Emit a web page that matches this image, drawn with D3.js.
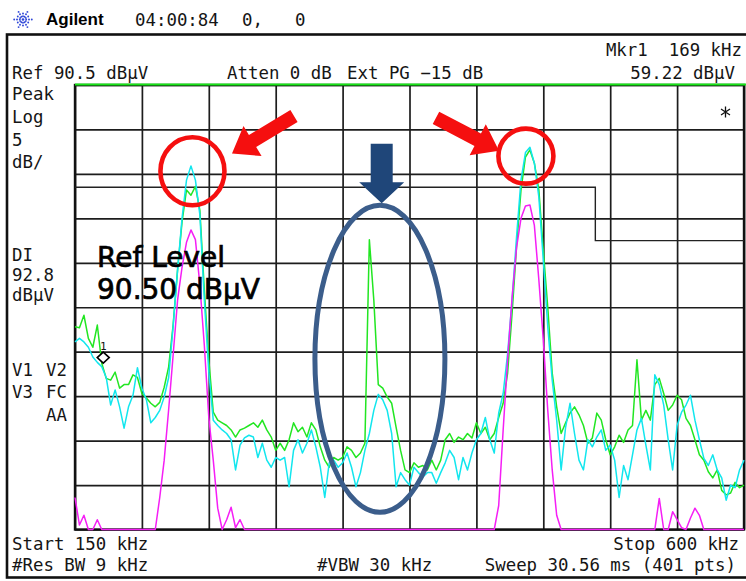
<!DOCTYPE html>
<html>
<head>
<meta charset="utf-8">
<script src="https://cdn.jsdelivr.net/npm/d3@7"></script>
<style>
  body { margin: 0; background: #fff; }
  svg { display: block; }
  text { font-family: "DejaVu Sans Mono", monospace; font-size: 17.4px; fill: #151515; white-space: pre; }
</style>
</head>
<body>
<div id="chart"></div>
<script>
// sweep settings (kHz / dBuV), traces every 3 kHz
var startFreq = 150, stopFreq = 600, stepFreq = 3;
var refLevel = 90.5, dbPerDiv = 5, divisions = 10;

var freqTicks = [150, 195, 240, 285, 330, 375, 420, 465, 510, 555, 600];
var levelTicks = [90.5, 85.5, 80.5, 75.5, 70.5, 65.5, 60.5, 55.5, 50.5, 45.5, 40.5];

// trace 1 (green, max hold)
var traceGreen = [
  63.3, 63.2, 64.6, 62.0, 61.0, 63.5, 59.2, 57.5, 57.3, 58.2,
  56.4, 56.8, 56.8, 57.9, 57.6, 55.8, 55.3, 54.7, 54.3, 54.8,
  56.5, 58.8, 63.5, 69.7, 75.1, 78.7, 78.1, 79.1, 76.4, 67.4,
  59.6, 53.7, 52.8, 52.5, 52.2, 51.7, 50.9, 51.7, 51.9, 52.2,
  52.5, 52.0, 52.8, 51.7, 50.9, 49.4, 50.2, 49.4, 50.6, 52.5,
  51.5, 52.0, 50.9, 52.5, 51.7, 49.8, 48.3, 47.5, 48.6, 48.3,
  48.6, 49.8, 49.4, 48.6, 49.1, 50.2, 73.1, 66.3, 56.8, 56.4,
  55.4, 54.7, 52.0, 49.4, 47.2, 46.9, 48.0, 47.5, 47.7, 47.2,
  48.3, 47.2, 48.3, 50.6, 51.3, 50.3, 50.9, 50.6, 51.3, 50.8,
  52.5, 51.3, 52.0, 50.6, 51.3, 53.1, 54.7, 58.1, 64.8, 72.3,
  78.7, 82.4, 83.2, 81.7, 78.7, 71.9, 65.5, 58.1, 54.3, 51.3,
  52.5, 53.6, 54.3, 53.4, 52.2, 50.2, 50.8, 53.6, 52.8, 50.6,
  48.9, 49.8, 51.1, 50.3, 51.7, 52.2, 59.6, 52.8, 53.9, 52.8,
  56.8, 57.5, 55.8, 53.9, 54.5, 55.6, 55.1, 53.0, 52.2, 50.6,
  48.9, 48.3, 47.0, 46.3, 47.2, 44.9, 44.4, 44.6, 45.8, 45.2, 45.5
];

// trace 2 (cyan, clear write)
var traceCyan = [
  61.6, 62.0, 61.6, 61.0, 59.9, 59.3, 58.8, 57.6, 54.5, 56.2,
  54.3, 51.9, 54.3, 55.6, 58.7, 56.4, 55.1, 52.5, 53.1, 53.9,
  55.4, 57.6, 63.3, 69.7, 75.5, 79.8, 81.4, 79.8, 75.9, 66.3,
  58.2, 52.8, 52.2, 51.7, 51.3, 50.6, 47.2, 50.0, 50.8, 51.1,
  50.9, 48.6, 50.2, 48.3, 47.5, 48.6, 48.3, 48.6, 45.3, 49.4,
  50.6, 49.1, 50.2, 51.7, 49.8, 47.5, 44.1, 48.0, 48.3, 47.5,
  48.0, 49.1, 47.5, 45.3, 46.9, 49.4, 51.3, 53.9, 55.7, 55.1,
  53.9, 51.3, 45.3, 46.9, 46.1, 45.5, 47.5, 46.9, 46.4, 46.9,
  46.9, 45.7, 46.9, 48.0, 49.4, 48.6, 46.1, 48.6, 47.2, 49.1,
  50.6, 51.3, 53.1, 50.6, 49.1, 53.6, 55.8, 60.3, 66.3, 73.4,
  79.8, 82.9, 83.5, 81.7, 77.9, 70.8, 63.3, 57.3, 52.8, 47.2,
  52.0, 54.7, 51.3, 48.3, 47.2, 50.6, 49.8, 50.9, 51.7, 49.4,
  50.0, 48.3, 44.1, 47.7, 46.1, 48.9, 51.7, 53.0, 50.0, 47.2,
  57.9, 56.8, 54.5, 50.6, 47.2, 52.2, 53.7, 54.5, 55.6, 52.8,
  50.6, 48.5, 47.7, 48.9, 47.2, 46.3, 43.8, 45.5, 45.2, 47.2, 48.3
];

// trace 3 (magenta, average)
var traceMagenta = [
  44.1, 41.0, 42.1, 40, 40, 41.6, 40, 40, 40, 40,
  40, 40, 40, 40, 40, 40, 40, 40, 40, 44.1,
  48.3, 54.0, 60.1, 66.3, 70.0, 72.8, 74.2, 73.1, 68.0, 61.2,
  53.1, 48.3, 42.9, 40, 41.6, 43.0, 40.7, 41.6, 40, 40,
  40, 40, 40, 40, 40, 40, 40, 40, 40, 40,
  40, 40, 40, 40, 40, 40, 40, 40, 40, 40,
  40, 40, 40, 40, 40, 40, 40, 40, 40, 40,
  40, 40, 40, 40, 40, 40, 40, 40, 40, 40,
  40, 40, 40, 40, 40, 40, 40, 40, 40, 40,
  40, 40, 40, 40, 40, 43.2, 51.7, 59.6, 66.6, 72.2,
  75.5, 76.9, 77.0, 74.7, 68.6, 61.8, 53.9, 47.2, 42.1, 40,
  40, 40, 40, 40, 40, 40, 40, 40, 40, 40,
  40, 40, 40, 40, 40, 40, 40, 40, 40, 40,
  40, 44.0, 40, 40, 42.5, 41.6, 40.7, 40, 41.8, 42.9,
  42.1, 40, 40, 40, 40, 40, 40, 40, 40, 40, 40
];

// class A QP limit line
var limitFreq = [150, 500, 500, 600];
var limitLevel = [79, 79, 73, 73];

var markerFreq = 169, markerLevel = 59.22;

var freqs = d3.range(startFreq, stopFreq + 0.01, stepFreq);

var width = 746, height = 581;
var plot = {left: 75, right: 744, top: 85, bottom: 529.5};

var x = d3.scaleLinear().domain([startFreq, stopFreq]).range([plot.left, plot.right]);
var y = d3.scaleLinear()
    .domain([refLevel - dbPerDiv * divisions, refLevel])
    .range([plot.bottom, plot.top])
    .clamp(true);

var svg = d3.select("#chart").append("svg")
    .attr("width", width)
    .attr("height", height);

// outer instrument frame
svg.append("rect")
    .attr("x", 7).attr("y", 34.5)
    .attr("width", 760).attr("height", 543)
    .attr("fill", "none").attr("stroke", "#111").attr("stroke-width", 2.6);

// header: logo + title
var logo = svg.append("g").attr("transform", "translate(23,19.5)");
d3.range(12).forEach(function (k) {
  var a = k * Math.PI / 6;
  [3.2, 6, 8.8].forEach(function (r, j) {
    if (j == 2 && k % 2) return;
    logo.append("circle")
        .attr("cx", Math.cos(a) * r).attr("cy", Math.sin(a) * r)
        .attr("r", 0.95).attr("fill", "#2f47d8");
  });
});
logo.append("circle").attr("r", 1.3).attr("fill", "#2f47d8");

svg.append("text").attr("x", 46).attr("y", 25)
    .style("font-family", "'Liberation Sans', Arial, sans-serif")
    .style("font-weight", "bold").style("font-size", "17px").style("fill", "#000")
    .text("Agilent");
svg.append("text").attr("x", 135).attr("y", 25.5).text("04:00:84");
svg.append("text").attr("x", 242).attr("y", 25.5).text("0,");
svg.append("text").attr("x", 295).attr("y", 25.5).text("0");

// status text
function label(tx, ty, s, anchor) {
  svg.append("text").attr("x", tx).attr("y", ty)
      .attr("text-anchor", anchor || "start").text(s);
}
label(12, 78.5, "Ref 90.5 dBµV");
label(227, 78.5, "Atten 0 dB");
label(347, 78.5, "Ext PG −15 dB");
label(742, 56, "Mkr1  169 kHz", "end");
label(735, 78.5, "59.22 dBµV", "end");
label(12, 100, "Peak");
label(12, 122.5, "Log");
label(12, 145.5, "5");
label(12, 167.5, "dB/");
label(12, 261, "DI");
label(12, 281, "92.8");
label(12, 301, "dBµV");
label(12, 376, "V1");
label(46, 376, "V2");
label(12, 398, "V3");
label(46, 398, "FC");
label(46, 420.5, "AA");
label(12, 549.5, "Start 150 kHz");
label(12, 571, "#Res BW 9 kHz");
label(317, 571, "#VBW 30 kHz");
label(739, 549.5, "Stop 600 kHz", "end");
label(736, 571, "Sweep 30.56 ms (401 pts)", "end");

// graticule
var grid = svg.append("g").attr("class", "grid");
grid.append("g")
    .attr("transform", "translate(0," + plot.bottom + ")")
    .call(d3.axisBottom(x).tickValues(freqTicks).tickSize(-(plot.bottom - plot.top)).tickFormat(""));
grid.append("g")
    .attr("transform", "translate(" + plot.left + ",0)")
    .call(d3.axisLeft(y).tickValues(levelTicks).tickSize(-(plot.right - plot.left)).tickFormat(""));
grid.selectAll(".domain").remove();
grid.selectAll(".tick line").attr("stroke", "#1d1d1d").attr("stroke-width", 1.7);

svg.append("rect")
    .attr("x", plot.left).attr("y", plot.top)
    .attr("width", plot.right - plot.left).attr("height", plot.bottom - plot.top)
    .attr("fill", "none").attr("stroke", "#111").attr("stroke-width", 2.4);

svg.append("line")
    .attr("x1", plot.left).attr("x2", width)
    .attr("y1", plot.top - 0.5).attr("y2", plot.top - 0.5)
    .attr("stroke", "#19e619").attr("stroke-width", 1.8);

// limit line
var limitLine = d3.line()
    .x(function (d, i) { return x(limitFreq[i]); })
    .y(function (d) { return y(d); });
svg.append("path")
    .datum(limitLevel)
    .attr("d", limitLine)
    .attr("fill", "none").attr("stroke", "#222").attr("stroke-width", 1.4);

// traces
var line = d3.line()
    .x(function (d, i) { return x(freqs[i]); })
    .y(function (d) { return y(d); });

[[traceGreen, "#22e622"], [traceCyan, "#12e6ee"], [traceMagenta, "#f51ef5"]].forEach(function (t) {
  svg.append("path")
      .datum(t[0])
      .attr("d", line)
      .attr("fill", "none")
      .attr("stroke", t[1])
      .attr("stroke-width", 1.5)
      .attr("stroke-linejoin", "round");
});

// marker 1
var mx = x(markerFreq), my = y(markerLevel);
svg.append("path")
    .attr("d", "M" + mx + "," + (my - 11) + "l6,5.5l-6,5.5l-6,-5.5z")
    .attr("fill", "#fff").attr("stroke", "#000").attr("stroke-width", 1.6);
svg.append("text").attr("x", mx).attr("y", my - 13)
    .attr("text-anchor", "middle").style("font-size", "11px").text("1");

// asterisk
svg.append("path")
    .attr("d", "M725.5,106.5v11M721,109l9,6M730,109l-9,6")
    .attr("stroke", "#111").attr("stroke-width", 1.3);

// ref level note
var note = svg.append("g")
    .style("font-family", "'DejaVu Sans', sans-serif");
note.append("text").attr("x", 97).attr("y", 266.5)
    .style("font-family", "inherit").style("font-size", "28px").style("fill", "#000")
    .style("stroke", "#000").style("stroke-width", 0.7)
    .text("Ref Level");
note.append("text").attr("x", 97).attr("y", 298.5)
    .style("font-family", "inherit").style("font-size", "28px").style("fill", "#000")
    .style("stroke", "#000").style("stroke-width", 0.7)
    .text("90.50 dBµV");

// annotations (anchored in kHz / dBuV)
function arrow(f0, l0, f1, l1, bw, hw, hl, color) {
  var x0 = x(f0), y0 = y(l0), x1 = x(f1), y1 = y(l1);
  var len = Math.hypot(x1 - x0, y1 - y0);
  var ux = (x1 - x0) / len, uy = (y1 - y0) / len;
  var nx = -uy, ny = ux;
  var bx = x1 - ux * hl, by = y1 - uy * hl;
  var pts = [
    [x0 + nx * bw / 2, y0 + ny * bw / 2],
    [bx + nx * bw / 2, by + ny * bw / 2],
    [bx + nx * hw / 2, by + ny * hw / 2],
    [x1, y1],
    [bx - nx * hw / 2, by - ny * hw / 2],
    [bx - nx * bw / 2, by - ny * bw / 2],
    [x0 - nx * bw / 2, y0 - ny * bw / 2]
  ];
  svg.append("path").attr("d", "M" + pts.join("L") + "Z").attr("fill", color);
}

svg.append("ellipse")
    .attr("cx", x(229)).attr("cy", y(80.8)).attr("rx", 32).attr("ry", 34)
    .attr("fill", "none").attr("stroke", "#f50f0f").attr("stroke-width", 4.6);
svg.append("ellipse")
    .attr("cx", x(453.3)).attr("cy", y(82.5)).attr("rx", 27.5).attr("ry", 27.5)
    .attr("fill", "none").attr("stroke", "#f50f0f").attr("stroke-width", 4.6);

arrow(297.3, 87.0, 255.6, 82.8, 14, 35, 24, "#f50f0f");
arrow(392.8, 86.8, 435.2, 83.1, 14, 35, 24, "#f50f0f");
arrow(356.3, 83.9, 356.3, 77.2, 22, 45, 21, "#1f4679");

svg.append("ellipse")
    .attr("cx", x(355.1)).attr("cy", y(59.7)).attr("rx", 65).attr("ry", 153.5)
    .attr("fill", "none").attr("stroke", "#3b5d8b").attr("stroke-width", 5);
</script>
</body>
</html>
